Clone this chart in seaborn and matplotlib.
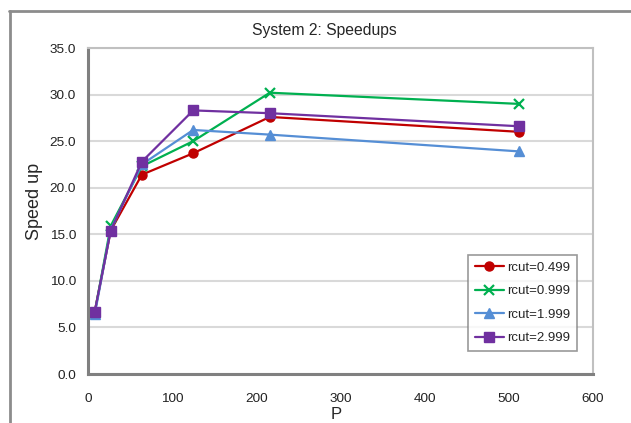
import matplotlib
matplotlib.use("Agg")
import matplotlib.pyplot as plt
import seaborn as sns
import pandas as pd
from matplotlib.lines import Line2D

P = [8, 27, 64, 125, 216, 512]
rcut_0499 = [6.7, 15.4, 21.4, 23.7, 27.6, 26.0]
rcut_0999 = [6.6, 15.9, 22.3, 25.0, 30.2, 29.0]
rcut_1999 = [6.4, 15.5, 22.5, 26.2, 25.7, 23.9]
rcut_2999 = [6.7, 15.4, 22.8, 28.3, 28.0, 26.6]
series_names = ["rcut=0.499", "rcut=0.999", "rcut=1.999", "rcut=2.999"]
colors = ["#C00000", "#00B050", "#558ED5", "#7030A0"]
markers = ["o", "x", "^", "s"]
y_ticks = [0, 5, 10, 15, 20, 25, 30, 35]
x_ticks = [0, 100, 200, 300, 400, 500, 600]

sns.set_style("white")
plt.rcParams["font.family"] = ["Liberation Sans", "DejaVu Sans"]

fig = plt.figure(figsize=(6.31, 4.23), dpi=100)
ax = fig.add_axes([88/631, 1-374/423, (593-88)/631, (374-48)/423])

handles = []
for name, vals, c, m in zip(series_names, [rcut_0499, rcut_0999, rcut_1999, rcut_2999],
                            colors, markers):
    d = pd.DataFrame({"P": P, "Speed up": vals})
    mew = 1.6 if m == "x" else 1.0
    sns.lineplot(data=d, x="P", y="Speed up", color=c, marker=m, linewidth=1.6,
                 markersize=6.5, markeredgecolor=c, markeredgewidth=mew, ax=ax)
    handles.append(Line2D([0], [0], color=c, marker=m, linewidth=1.6, markersize=6.5,
                          markeredgecolor=c, markeredgewidth=mew))

ax.set_xlim(0, 600)
ax.set_ylim(0, 35)
ax.set_xticks(x_ticks)
ax.set_xticklabels([str(t) for t in x_ticks])
ax.set_yticks(y_ticks)
ax.set_yticklabels([f"{t:.1f}" for t in y_ticks])
ax.yaxis.grid(True, color="#D9D9D9", linewidth=1.5)
ax.xaxis.grid(False)
ax.set_axisbelow(True)
ax.tick_params(axis="both", labelsize=9.7, labelcolor="#222222", length=3.6, width=1.2,
               direction="out", color="#808080")
ax.tick_params(axis="y", pad=5)
ax.tick_params(axis="x", pad=10)
for s in ["left", "bottom"]:
    ax.spines[s].set_color("#808080")
    ax.spines[s].set_linewidth(2.2)
for s in ["top", "right"]:
    ax.spines[s].set_color("#C0C0C0")
    ax.spines[s].set_linewidth(1.5)
ax.set_xlabel("P", fontsize=12)
ax.set_ylabel("Speed up", fontsize=13)
ax.xaxis.set_label_coords((336-88)/505, (374-407)/326)
ax.yaxis.set_label_coords((43-88)/505, 1-(201-48)/326)

leg = ax.legend(handles, series_names, loc="upper left",
                bbox_to_anchor=((468-88)/505, 1-(255-48)/326),
                fontsize=9.5, frameon=True, fancybox=False, handlelength=2.2,
                handletextpad=0.3, labelspacing=0.85, borderpad=0.5,
                borderaxespad=0)
leg.get_frame().set_edgecolor("#808080")
leg.get_frame().set_linewidth(1.2)

fig.text(324/631, 1-31/423, "System 2: Speedups", ha="center", va="center", fontsize=11.3)

# outer chart frame (cropped)
fig.add_artist(Line2D([9/631, 1], [1-11/423, 1-11/423], transform=fig.transFigure,
                      color="#8C8C8C", linewidth=2))
fig.add_artist(Line2D([10/631, 10/631], [0, 1-11/423], transform=fig.transFigure,
                      color="#8C8C8C", linewidth=2))

fig.savefig("out.png", dpi=100)
